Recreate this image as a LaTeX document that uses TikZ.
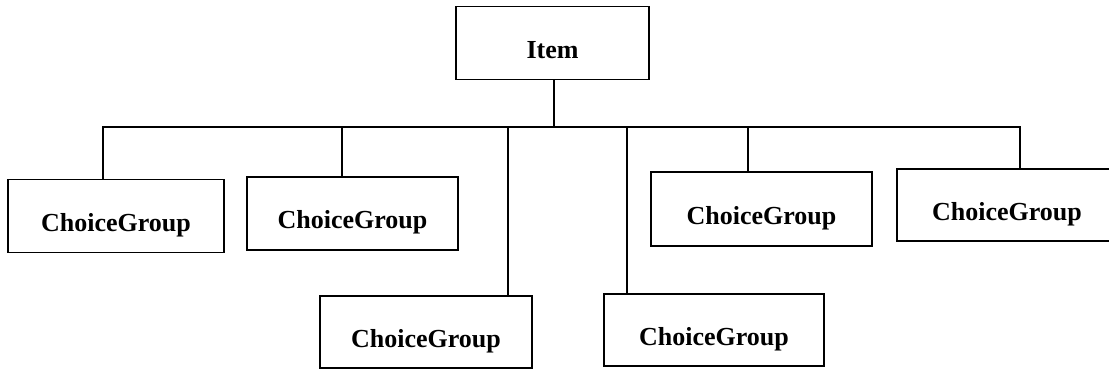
\documentclass[tikz,border=0pt]{standalone}
\usepackage{fontspec}
\setmainfont{Liberation Serif}
\begin{document}
\begin{tikzpicture}[x=1pt,y=-1pt,
  line width=1.5pt,
  box/.style={draw, rectangle, inner sep=0pt, minimum height=73pt,
    font=\bfseries\fontsize{26}{32}\selectfont, text height=35pt, text depth=5pt},
  link/.style={draw, line cap=rect}]
\useasboundingbox (0,0) rectangle (1109,370);

% root
\node[box, minimum width=193pt] (item) at (552.5,43) {Item};

% children
\node[box, minimum width=216pt] (c1) at (116,216)   {ChoiceGroup};
\node[box, minimum width=211pt] (c2) at (352.5,213.5) {ChoiceGroup};
\node[box, minimum width=212pt, minimum height=72pt] (c3) at (426,332) {ChoiceGroup};
\node[box, minimum width=220pt, minimum height=72pt] (c4) at (714,330) {ChoiceGroup};
\node[box, minimum width=221pt, minimum height=74pt] (c5) at (761.5,209) {ChoiceGroup};
\node[box, minimum width=220pt, minimum height=72pt] (c6) at (1007,205) {ChoiceGroup};

% bus taps
\coordinate (b1) at (103,127);
\coordinate (b2) at (342,127);
\coordinate (b3) at (508,127);
\coordinate (b4) at (627,127);
\coordinate (b5) at (748,127);
\coordinate (b6) at (1020,127);

\draw[link] (b1) -- (b6);
\draw[link] (item.south -| 554,0) -- (554,127);
\draw (b1) -- (b1 |- c1.north);
\draw (b2) -- (b2 |- c2.north);
\draw (b3) -- (b3 |- c3.north);
\draw (b4) -- (b4 |- c4.north);
\draw (b5) -- (b5 |- c5.north);
\draw (b6) -- (b6 |- c6.north);
\end{tikzpicture}
\end{document}
